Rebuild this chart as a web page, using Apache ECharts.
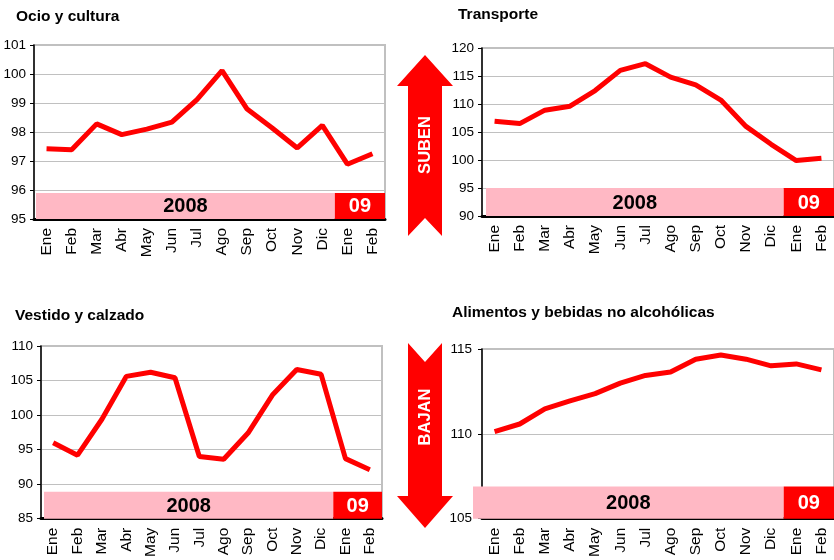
<!DOCTYPE html>
<html>
<head>
<meta charset="utf-8">
<script src="https://cdn.jsdelivr.net/npm/echarts@6/dist/echarts.min.js"></script>
<style>
  html, body { margin: 0; padding: 0; background: #fff; }
  #chart { width: 834px; height: 560px; }
</style>
</head>
<body>
<div id="chart"></div>
<script>
// ===== datos (índices de precios, ene 2008 - feb 2009) =====
const months = ['Ene','Feb','Mar','Abr','May','Jun','Jul','Ago','Sep','Oct','Nov','Dic','Ene','Feb'];

const ocioValues      = [97.42, 97.39, 98.28, 97.91, 98.10, 98.34, 99.12, 100.12, 98.79, 98.14, 97.45, 98.23, 96.89, 97.25];
const transporteValues = [106.9, 106.5, 108.9, 109.6, 112.4, 116.0, 117.2, 114.8, 113.4, 110.7, 106.0, 102.8, 99.9, 100.3];
const vestidoValues   = [96.0, 94.2, 99.4, 105.6, 106.2, 105.4, 94.0, 93.6, 97.4, 102.9, 106.6, 105.9, 93.7, 92.1];
const alimentosValues = [110.13, 110.58, 111.47, 111.94, 112.37, 112.99, 113.44, 113.64, 114.40, 114.65, 114.40, 114.01, 114.12, 113.77];

const titles   = ['Ocio y cultura', 'Transporte', 'Vestido y calzado', 'Alimentos y bebidas no alcohólicas'];
const series   = [ocioValues, transporteValues, vestidoValues, alimentosValues];
const yMin     = [95, 90, 85, 105];
const yMax     = [101, 120, 110, 115];
const yStep    = [1, 5, 5, 5];
const bandTop  = [95.9, 95, 88.9, 106.9];

// franjas de año: [desde, hasta] (índices de mes)
const yearLabels = ['2008', '09'];
const yearSpans  = [[0, 11], [12, 13]];

// ===== layout =====
const grids = [
    { left: 34,  top: 45,  width: 351, height: 174 },
    { left: 482, top: 48,  width: 354, height: 168 },
    { left: 41,  top: 346, width: 341, height: 173 },
    { left: 482, top: 349, width: 354, height: 171 }
];
const titlePos = [[16, 18], [458, 16], [15, 317], [452, 314]];
const bandPadLeft = [2, 4, 3, -9];    // la franja del último panel sobresale del eje
const yLabelMargin = [8, 8, 8, 10];

const RED = '#ff0000', PINK = '#ffb8c4', GRID = '#c0c0c0';
const FONT = '"Liberation Sans", Arial, sans-serif';

function bandRenderer(panel) {
    return function (params, api) {
        const lo = api.coord([api.value(0), api.value(2)]);
        const hi = api.coord([api.value(1), api.value(3)]);
        const bw = api.size([1, 0])[0];
        let x0 = lo[0] - bw / 2, x1 = hi[0] + bw / 2;
        if (params.dataIndex === 0) x0 += bandPadLeft[panel];
        const isYear = params.dataIndex === 0;
        return {
            type: 'group',
            children: [
                { type: 'rect', shape: { x: x0, y: hi[1], width: x1 - x0, height: lo[1] - hi[1] },
                  style: { fill: isYear ? PINK : RED } },
                { type: 'text', x: (x0 + x1) / 2, y: (hi[1] + lo[1]) / 2 + 1,
                  style: { text: yearLabels[params.dataIndex], fill: isYear ? '#000' : '#fff',
                           font: 'bold 20px ' + FONT, align: 'center', verticalAlign: 'middle' } }
            ]
        };
    };
}

const option = {
    animation: false,
    backgroundColor: '#fff',
    grid: grids.map(g => Object.assign({ show: true, borderColor: GRID, borderWidth: 2, backgroundColor: 'transparent' }, g)),
    xAxis: grids.map((g, i) => ({
        type: 'category', gridIndex: i, data: months, boundaryGap: true,
        axisLine: { lineStyle: { color: '#000', width: 3 } },
        axisTick: { length: 2, lineStyle: { color: '#000', width: 6, cap: 'round' } },
        axisLabel: { rotate: 90, color: '#000', fontSize: 15.5, fontFamily: FONT, margin: 9, interval: 0 },
        splitLine: { show: false }
    })),
    yAxis: grids.map((g, i) => ({
        type: 'value', gridIndex: i, min: yMin[i], max: yMax[i], interval: yStep[i],
        axisLine: { show: true, lineStyle: { color: '#000', width: 1.5 } },
        axisTick: { show: true, length: 4, lineStyle: { color: '#000' } },
        axisLabel: { color: '#000', fontSize: 13.5, fontFamily: FONT, margin: yLabelMargin[i] },
        splitLine: { show: true, lineStyle: { color: GRID, width: 1 } }
    })),
    series: [],
    graphic: []
};

series.forEach((vals, i) => {
    option.series.push({
        type: 'custom', xAxisIndex: i, yAxisIndex: i, z: 3,
        renderItem: bandRenderer(i),
        encode: { x: [0, 1], y: [2, 3] },
        data: yearSpans.map(s => [s[0], s[1], yMin[i], bandTop[i]])
    });
    option.series.push({
        type: 'line', xAxisIndex: i, yAxisIndex: i, z: 4,
        data: vals, showSymbol: false, symbol: 'none',
        lineStyle: { color: RED, width: 5 }
    });
    option.graphic.push({
        type: 'text', left: titlePos[i][0], top: titlePos[i][1] - 9,
        style: { text: titles[i], fill: '#000', font: 'bold 15.5px ' + FONT }
    });
});

// flechas SUBEN / BAJAN
option.graphic.push(
    { type: 'polygon', shape: { points: [[425,55],[453,86],[442,86],[442,236],[425,218],[408,236],[408,86],[397,86]] },
      style: { fill: RED } },
    { type: 'text', x: 425, y: 145, rotation: Math.PI / 2,
      style: { text: 'SUBEN', fill: '#fff', font: 'bold 16.5px ' + FONT, align: 'center', verticalAlign: 'middle' } },
    { type: 'polygon', shape: { points: [[408,343],[425,362],[442,343],[442,496],[453,496],[425,528],[397,496],[408,496]] },
      style: { fill: RED } },
    { type: 'text', x: 425, y: 417, rotation: Math.PI / 2,
      style: { text: 'BAJAN', fill: '#fff', font: 'bold 16.5px ' + FONT, align: 'center', verticalAlign: 'middle' } }
);

const chart = echarts.init(document.getElementById('chart'));
chart.setOption(option);
</script>
</body>
</html>
